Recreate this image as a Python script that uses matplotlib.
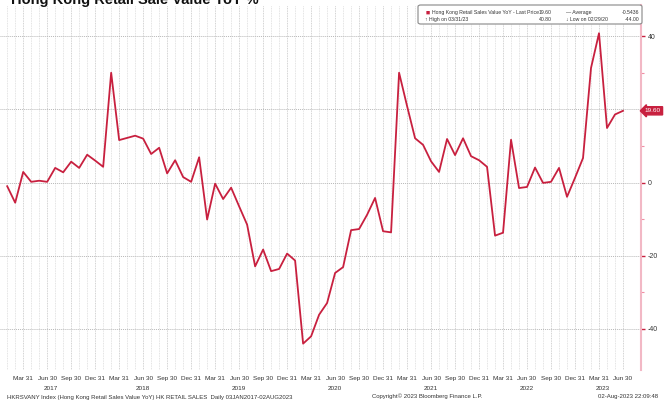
import numpy as np
import matplotlib
matplotlib.use("Agg")
from matplotlib import pyplot as plt
from matplotlib.patches import FancyBboxPatch

# Hong Kong retail sales value YoY %, monthly Jan 2017 - Jun 2023
values = [
    -1.0, -5.5, 2.9, 0.2, 0.5, 0.2, 4.0, 2.8, 5.7, 4.0, 7.6, 6.0,            # 2017
    4.3, 30.0, 11.6, 12.2, 12.8, 12.0, 7.8, 9.5, 2.5, 6.1, 1.5, 0.2,          # 2018
    6.9, -10.1, -0.3, -4.5, -1.4, -6.5, -11.5, -22.9, -18.3, -24.2, -23.6, -19.4,  # 2019
    -21.3, -44.0, -42.0, -36.1, -32.9, -24.7, -23.1, -13.0, -12.7, -8.8, -4.2, -13.3,  # 2020
    -13.6, 30.0, 20.9, 12.1, 10.3, 5.8, 2.9, 11.9, 7.5, 12.1, 7.2, 6.1,       # 2021
    4.3, -14.5, -13.7, 11.7, -1.5, -1.2, 4.1, -0.1, 0.2, 4.0, -3.9, 1.3,      # 2022
    6.7, 31.3, 40.8, 14.9, 18.6, 19.6,                                       # 2023
]
years = [2017, 2018, 2019, 2020, 2021, 2022, 2023]
quarter_names = ["Mar 31", "Jun 30", "Sep 30", "Dec 31"]
y_ticks = [-40, -20, 0, 20, 40]
y_labels = ["-40", "-20", "0", "", "40"]   # 20 is covered by the last price tag
last_price = 19.60

red = "#c8203f"
font = ["Liberation Sans Narrow", "Liberation Sans", "DejaVu Sans"]
plt.rcParams["font.family"] = font

fig = plt.figure(figsize=(6.71, 4.19), dpi=100)
ax = fig.add_axes([0, 1 - 370 / 419, 641 / 671, 365 / 419])

x = np.arange(len(values))

# monthly vertical grid
for i in x:
    c = "#c4c4c4" if i % 3 == 2 else "#dadada"
    ax.axvline(i, color=c, lw=0.6, ls=(0, (1, 1)), zorder=1)
for v in y_ticks:
    ax.axhline(v, color="#b8b8b8", lw=0.7, ls=(0, (1, 1)), zorder=1)

ax.plot(x, values, color=red, lw=1.3, zorder=3)

ax.set_xlim(-0.9, 79.25)
ax.set_ylim(-51.2, 48.5)

for s in ["left", "top", "bottom"]:
    ax.spines[s].set_visible(False)
ax.spines["right"].set_color("#f2b8c5")
ax.spines["right"].set_linewidth(1.5)

# x ticks at quarter ends
qt = [i for i in x if i % 3 == 2]
ax.set_xticks(qt)
ax.set_xticklabels([quarter_names[(i // 3) % 4] for i in qt])
ax.tick_params(axis="x", length=0, pad=4, labelsize=4.6, labelcolor="#333333")
for k, yr in enumerate(years):
    lo = max(12 * k - 1, 0)
    hi = min(12 * k + 11, 78)
    ax.text((lo + hi) / 2, -0.045, str(yr), transform=ax.get_xaxis_transform(),
            ha="center", va="top", fontsize=4.6, color="#333333")

# right axis
ax.yaxis.tick_right()
ax.set_yticks(y_ticks)
ax.set_yticklabels(y_labels)
ax.set_yticks([-30, -10, 10, 30], minor=True)
ax.tick_params(axis="y", which="major", length=3, width=1, color=red, pad=2,
               labelsize=5, labelcolor="#333333")
ax.tick_params(axis="y", which="minor", length=2, width=0.8, color="#f08fa5")
ax.text(1.006, last_price, f"{last_price:.2f}", transform=ax.get_yaxis_transform(),
        ha="left", va="center", fontsize=4.6, color="white", zorder=6,
        bbox=dict(boxstyle="larrow,pad=0.25", fc=red, ec=red))

# legend box
fig.patches.append(FancyBboxPatch((418 / 671, 1 - 24 / 419), 224 / 671, 19 / 419,
                                  boxstyle="round,pad=0,rounding_size=0.004",
                                  transform=fig.transFigure, fc="white",
                                  ec="#888888", lw=0.8, zorder=5))
lk = dict(fontsize=3.7, color="#333333", va="center", zorder=6)
y1 = 1 - 12.7 / 419
y2 = 1 - 19.3 / 419
fig.text(426 / 671, y1, "\u25a0", color=red, fontsize=5, va="center", zorder=6)
fig.text(432 / 671, y1, "Hong Kong Retail Sales Value YoY - Last Price", **lk)
fig.text(552 / 671, y1, f"{last_price:.2f}", ha="right", **lk)
fig.text(566 / 671, y1, "\u2014 Average", **lk)
fig.text(639 / 671, y1, "-0.5436", ha="right", **lk)
fig.text(425 / 671, y2, "\u2191 High on 03/31/23", **lk)
fig.text(552 / 671, y2, "40.80", ha="right", **lk)
fig.text(566 / 671, y2, "\u2193 Low on 02/29/20", **lk)
fig.text(639 / 671, y2, "-44.00", ha="right", **lk)

# title, cut off at the top of the picture
fig.text(11 / 671, 1 - 4 / 419, "Hong Kong Retail Sale Value YoY %", fontsize=10.5,
         fontweight="bold", family=["Liberation Sans", "DejaVu Sans"],
         ha="left", va="baseline", color="#111111")

# footer
fs = dict(fontsize=4.3, color="#333333", va="center")
fig.text(7 / 671, 1 - 397 / 419,
         "HKRSVANY Index (Hong Kong Retail Sales Value YoY) HK RETAIL SALES  Daily 03JAN2017-02AUG2023", **fs)
fig.text(427 / 671, 1 - 396 / 419, "Copyright\u00a9 2023 Bloomberg Finance L.P.", ha="center", **fs)
fig.text(658 / 671, 1 - 396 / 419, "02-Aug-2023 22:09:48", ha="right", **fs)

fig.savefig("out.png", dpi=100, facecolor="white")
